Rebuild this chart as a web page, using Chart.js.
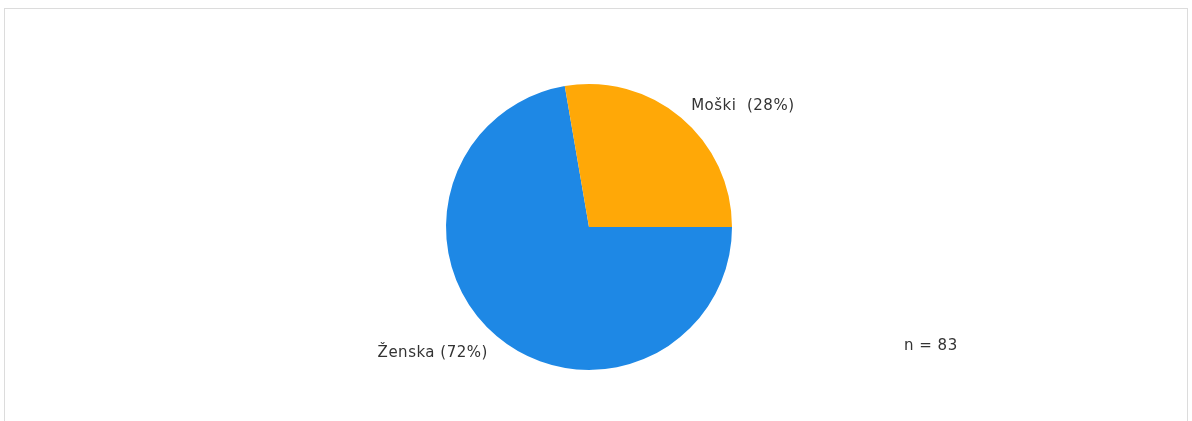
<!DOCTYPE html>
<html>
<head>
<meta charset="utf-8">
<script src="https://cdn.jsdelivr.net/npm/chart.js@4"></script>
<style>
  html, body { margin: 0; padding: 0; background: #fff; overflow: hidden; }
  #okvir { position: absolute; left: 4px; top: 8px; width: 1184px; height: 500px; border: 1px solid #dcdcdc; box-sizing: border-box; }
  #graf { position: absolute; left: 0; top: 0; }
</style>
</head>
<body>
<div id="okvir"></div>
<canvas id="graf" width="1192" height="421"></canvas>
<script>
// Podatki
const kategorije = ['Ženska', 'Moški'];
const odgovori = [60, 23];
const oznake = ['Ženska (72%)', 'Moški  (28%)'];
const barve = ['#1e88e5', '#ffa807'];
const n = 83;

// Oznake ob rezinah + n
const oznakePlugin = {
  id: 'oznake',
  afterDraw(chart) {
    const c = chart.ctx;
    const meta = chart.getDatasetMeta(0);
    c.save();
    c.font = '15px "DejaVu Sans", Verdana, sans-serif';
    c.letterSpacing = '0.5px';
    c.fillStyle = '#333';
    c.textBaseline = 'middle';
    meta.data.forEach((arc, i) => {
      const p = arc.getProps(['x', 'y', 'startAngle', 'endAngle', 'outerRadius'], true);
      const kot = (p.startAngle + p.endAngle) / 2;
      const r = p.outerRadius * 1.13;
      const x = p.x + Math.cos(kot) * r;
      const y = p.y + Math.sin(kot) * r + 3;
      c.textAlign = Math.cos(kot) >= 0 ? 'left' : 'right';
      c.fillText(oznake[i], x + (Math.cos(kot) >= 0 ? -2 : 3), y);
    });
    c.textAlign = 'left';
    c.fillText('n = ' + n, 904, 346);
    c.restore();
  }
};

const ctx = document.getElementById('graf').getContext('2d');
new Chart(ctx, {
  type: 'pie',
  data: {
    labels: kategorije,
    datasets: [{
      data: odgovori,
      backgroundColor: barve,
      borderWidth: 0
    }]
  },
  options: {
    responsive: false,
    animation: false,
    rotation: 90,
    layout: { padding: { left: 446, right: 460, top: 84, bottom: 51 } },
    plugins: {
      legend: { display: false },
      tooltip: { enabled: false }
    }
  },
  plugins: [oznakePlugin]
});
</script>
</body>
</html>
